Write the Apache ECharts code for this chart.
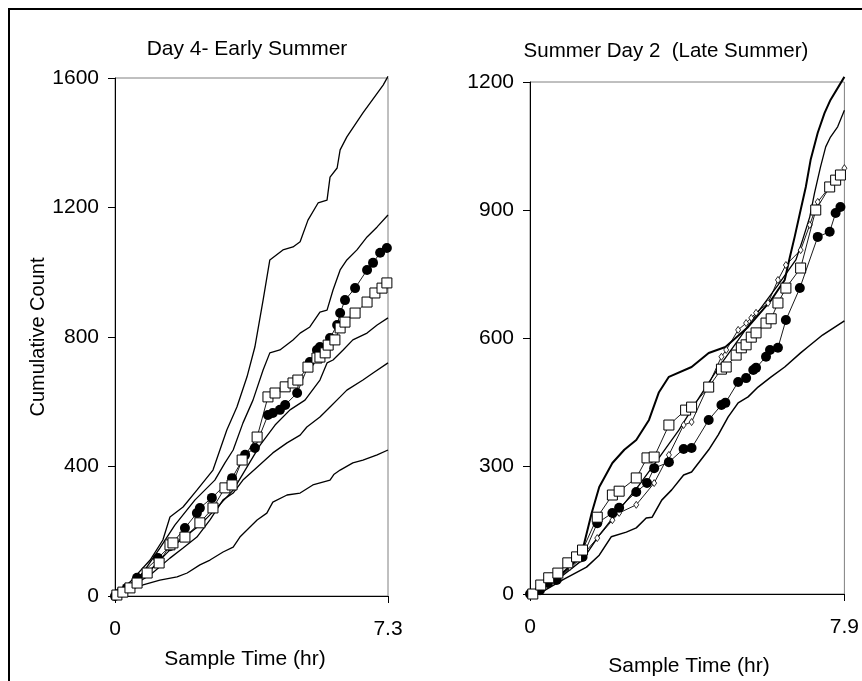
<!DOCTYPE html>
<html>
<head>
<meta charset="utf-8">
<script src="https://cdn.jsdelivr.net/npm/echarts@6/dist/echarts.min.js"></script>
<style>
html,body{margin:0;padding:0;background:#fff;}
#chart{width:862px;height:681px;}
</style>
</head>
<body>
<div id="chart"></div>
<script>
// ---------- Left panel: Day 4- Early Summer ----------
const leftTitle = "Day 4- Early Summer";
const leftXTicks = [0, 7.3];
const leftYTicks = [0, 400, 800, 1200, 1600];
const leftLine1 = [[0,0],[0.40,43],[0.94,111],[1.28,173],[1.47,244],[1.82,275],[2.19,327],[2.62,389],[2.99,513],[3.26,584],[3.53,677],[3.74,769],[3.96,914],[4.14,1038],[4.49,1069],[4.76,1078],[4.95,1094],[5.16,1161],[5.43,1214],[5.67,1223],[5.75,1294],[5.94,1322],[6.02,1378],[6.20,1418],[6.63,1492],[7.17,1578],[7.30,1605]];
const leftLine2 = [[0,0],[0.67,59],[1.20,148],[1.60,219],[2.14,297],[2.67,358],[2.94,411],[3.16,451],[3.42,534],[3.69,605],[3.96,698],[4.14,751],[4.41,760],[4.76,791],[4.95,812],[5.21,831],[5.48,877],[5.67,883],[5.83,945],[6.02,1007],[6.20,1038],[6.47,1069],[6.74,1109],[7.01,1140],[7.30,1177]];
const leftLine3 = [[0,0],[0.94,80],[1.60,158],[2.27,219],[2.67,266],[3.16,327],[3.48,389],[3.88,466],[4.28,528],[4.68,575],[5.08,605],[5.48,667],[5.67,720],[5.83,729],[6.10,760],[6.36,791],[6.74,812],[7.01,837],[7.30,859]];
const leftLine4 = [[0,0],[0.94,65],[1.47,117],[1.82,148],[2.19,182],[2.54,235],[2.89,297],[3.16,318],[3.42,358],[3.80,398],[4.22,442],[4.60,473],[4.95,497],[5.13,522],[5.48,553],[5.75,584],[6.02,615],[6.20,636],[6.63,667],[6.90,689],[7.30,720]];
const leftLine5 = [[0,0],[0.40,19],[0.75,34],[1.20,49],[1.66,59],[1.93,71],[2.27,96],[2.54,111],[2.89,136],[3.16,151],[3.34,182],[3.61,213],[3.80,235],[4.06,256],[4.22,290],[4.60,312],[4.95,318],[5.29,343],[5.75,358],[5.85,375],[6.02,389],[6.36,411],[6.63,420],[7.01,436],[7.30,451]];
const leftCircles = [[0,0],[0.13,9],[0.32,25],[0.59,56],[1.15,117],[1.47,154],[1.87,210],[2.19,256],[2.27,272],[2.59,303],[3.13,364],[3.48,436],[3.74,457],[4.09,559],[4.22,565],[4.41,575],[4.55,590],[4.87,627],[5.21,723],[5.40,760],[5.48,769],[5.75,797],[5.94,837],[6.02,874],[6.15,914],[6.42,951],[6.74,1007],[6.90,1029],[7.09,1060],[7.27,1075]];
const leftSquares = [[0.05,3],[0.21,12],[0.40,25],[0.59,40],[0.86,71],[1.18,102],[1.47,158],[1.55,164],[1.87,182],[2.27,226],[2.62,272],[2.94,334],[3.13,343],[3.40,420],[3.80,491],[4.09,615],[4.28,627],[4.55,646],[4.76,658],[4.89,667],[5.16,707],[5.40,735],[5.48,738],[5.62,751],[5.70,775],[5.88,791],[6.02,828],[6.15,846],[6.42,874],[6.74,908],[6.95,936],[7.14,951],[7.27,967]];

// ---------- Right panel: Summer Day 2 (Late Summer) ----------
const rightTitle = "Summer Day 2  (Late Summer)";
const rightXTicks = [0, 7.9];
const rightYTicks = [0, 300, 600, 900, 1200];
const rightLine1 = [[0,0],[0.37,21],[0.82,49],[1.12,75],[1.32,103],[1.55,190],[1.74,251],[2.07,307],[2.37,338],[2.67,361],[2.99,408],[3.24,473],[3.49,509],[4.06,532],[4.49,565],[4.91,579],[5.48,626],[6.06,689],[6.40,736],[6.53,790],[6.65,837],[6.80,900],[6.93,954],[7.05,1017],[7.23,1081],[7.40,1127],[7.55,1158],[7.90,1212]];
const rightLine2 = [[0,0],[0.75,38],[1.32,80],[1.74,138],[2.24,197],[2.74,255],[3.24,319],[3.74,384],[4.24,459],[4.73,530],[5.23,595],[5.73,661],[6.23,724],[6.68,783],[6.85,830],[7.03,884],[7.15,940],[7.30,1001],[7.43,1048],[7.55,1071],[7.73,1095],[7.90,1134]];
const rightLine3 = [[0,0],[0.25,2],[0.82,33],[1.42,63],[1.74,91],[2.04,134],[2.42,145],[2.67,155],[2.92,178],[3.07,180],[3.31,220],[3.56,244],[3.86,279],[4.06,286],[4.49,338],[4.73,373],[4.98,415],[5.23,448],[5.48,462],[5.73,485],[6.06,509],[6.40,532],[6.80,565],[6.98,579],[7.35,607],[7.90,640]];
const rightSquares = [[0.07,0],[0.27,21],[0.47,38],[0.70,49],[0.95,73],[1.17,87],[1.32,103],[1.69,180],[2.07,232],[2.24,241],[2.67,272],[2.94,319],[3.12,321],[3.49,396],[3.91,431],[4.06,438],[4.49,485],[4.81,527],[4.93,532],[5.18,560],[5.31,577],[5.43,584],[5.56,602],[5.68,612],[5.93,635],[6.06,645],[6.23,682],[6.43,717],[6.80,764],[7.18,900],[7.53,954],[7.68,970],[7.80,982]];
const rightCircles = [[0,0],[0.25,9],[0.45,26],[0.67,33],[1.32,87],[1.69,166],[2.07,190],[2.24,202],[2.67,239],[2.94,260],[3.12,295],[3.49,309],[3.86,340],[4.06,342],[4.49,408],[4.81,443],[4.91,448],[5.23,497],[5.43,506],[5.61,525],[5.68,530],[5.93,556],[6.03,572],[6.23,577],[6.43,642],[6.78,717],[7.23,837],[7.53,849],[7.68,893],[7.80,907]];
const rightDiamonds = [[0,0],[0.27,16],[0.62,38],[1.00,63],[1.32,91],[1.69,131],[2.07,173],[2.24,190],[2.67,209],[3.12,260],[3.49,326],[3.86,396],[4.06,403],[4.81,556],[4.93,572],[5.23,619],[5.43,635],[5.56,647],[5.68,659],[5.98,682],[6.23,736],[6.43,771],[6.80,806],[7.03,865],[7.23,919],[7.90,998]];

const FONT = "Liberation Sans, Arial, sans-serif";
const chart = echarts.init(document.getElementById('chart'), null, {renderer:'canvas'});

function envLine(data, xi, w){
  return {type:'line', xAxisIndex:xi, yAxisIndex:xi, data:data, symbol:'none', clip:false,
    lineStyle:{color:'#000', width:w||1.3}, z:2, silent:true};
}
function markerSeries(data, xi, kind){
  const s = {type:'line', xAxisIndex:xi, yAxisIndex:xi, data:data, clip:false, silent:true,
    lineStyle:{color:'#000', width:0.9}, showAllSymbol:true};
  if(kind==='circle'){ s.symbol='circle'; s.symbolSize=10; s.itemStyle={color:'#000'}; s.z=3; }
  if(kind==='square'){ s.symbol='rect'; s.symbolSize=10; s.itemStyle={color:'#fff', borderColor:'#000', borderWidth:1}; s.z=4; }
  if(kind==='diamond'){ s.symbol='diamond'; s.symbolSize=[5,7]; s.itemStyle={color:'#fff', borderColor:'#000', borderWidth:0.8}; s.z=3; }
  return s;
}
function xAxisDef(gi, ticks){
  const mx = ticks[ticks.length-1];
  return {type:'value', gridIndex:gi, min:ticks[0], max:mx, interval:mx-ticks[0],
    axisLine:{show:true, onZero:false, lineStyle:{color:'#000', width:1}},
    axisTick:{show:true, length:7, lineStyle:{color:'#000'}},
    axisLabel:{fontFamily:FONT, fontSize:21, color:'#000', margin:23, formatter:(v)=>String(v)},
    splitLine:{show:false}};
}
function yAxisDef(gi, ticks, name){
  return {type:'value', gridIndex:gi, min:ticks[0], max:ticks[ticks.length-1], interval:ticks[1]-ticks[0],
    axisLine:{show:true, lineStyle:{color:'#000', width:1}},
    axisTick:{show:true, length:7, lineStyle:{color:'#000'}},
    axisLabel:{fontFamily:FONT, fontSize:21, color:'#000', margin:16, formatter:(v)=>String(v)},
    splitLine:{show:false},
    name:name||'', nameLocation:'middle', nameRotate:90, nameGap:66,
    nameTextStyle:{fontFamily:FONT, fontSize:20, color:'#000'}};
}

chart.setOption({
  animation:false,
  backgroundColor:'#fff',
  title:[
    {text:leftTitle, left:242, top:34, textAlign:'center', textStyle:{fontFamily:FONT, fontSize:21, fontWeight:'normal', color:'#000'}},
    {text:rightTitle, left:661, top:36, textAlign:'center', textStyle:{fontFamily:FONT, fontSize:20.5, fontWeight:'normal', color:'#000'}},
    {text:'Sample Time (hr)', left:240, top:644, textAlign:'center', textStyle:{fontFamily:FONT, fontSize:21, fontWeight:'normal', color:'#000'}},
    {text:'Sample Time (hr)', left:684, top:651, textAlign:'center', textStyle:{fontFamily:FONT, fontSize:21, fontWeight:'normal', color:'#000'}}
  ],
  graphic:[
    {type:'rect', shape:{x:9, y:9, width:1000, height:1000}, style:{fill:'none', stroke:'#000', lineWidth:2}, silent:true, z:-1}
  ],
  grid:[
    {left:115, top:78, width:273, height:518, show:true, borderColor:'#808080', borderWidth:1, backgroundColor:'transparent'},
    {left:530, top:82, width:317, height:512, show:true, borderColor:'#808080', borderWidth:1, backgroundColor:'transparent'}
  ],
  xAxis:[xAxisDef(0, leftXTicks), xAxisDef(1, rightXTicks)],
  yAxis:[yAxisDef(0, leftYTicks, 'Cumulative Count'), yAxisDef(1, rightYTicks)],
  series:[
    envLine(leftLine1,0), envLine(leftLine2,0), envLine(leftLine3,0), envLine(leftLine4,0), envLine(leftLine5,0),
    markerSeries(leftCircles,0,'circle'), markerSeries(leftSquares,0,'square'),
    envLine(rightLine1,1,2), envLine(rightLine2,1), envLine(rightLine3,1,1.5),
    markerSeries(rightDiamonds,1,'diamond'), markerSeries(rightCircles,1,'circle'), markerSeries(rightSquares,1,'square')
  ]
});
</script>
</body>
</html>
